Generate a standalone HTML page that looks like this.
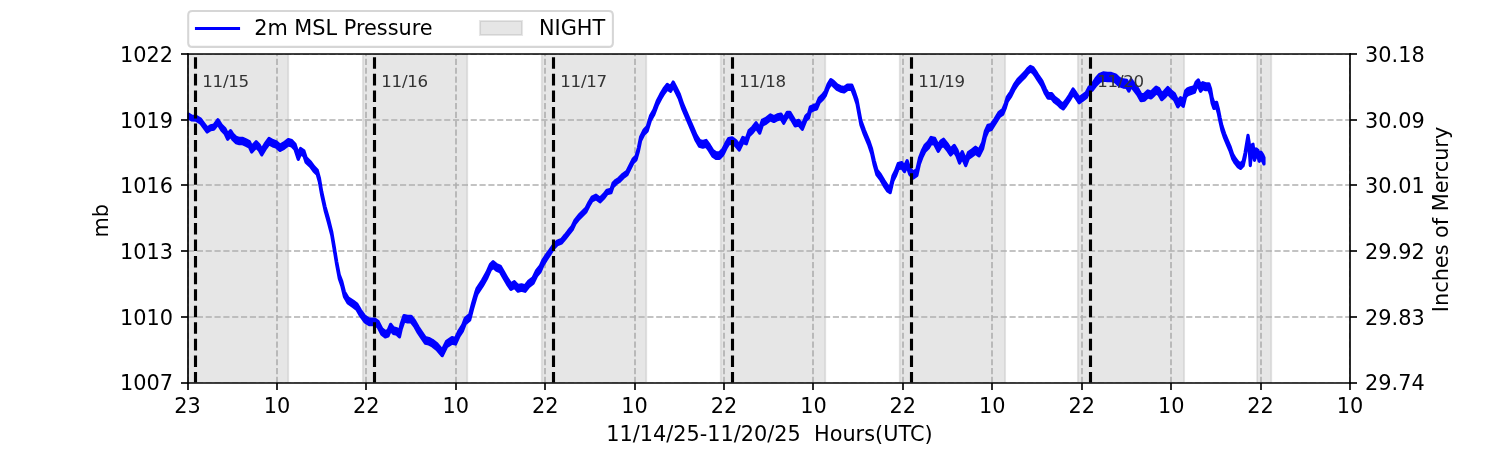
<!DOCTYPE html>
<html><head><meta charset="utf-8"><title>2m MSL Pressure</title>
<style>html,body{margin:0;padding:0;background:#fff;overflow:hidden;}svg{display:block;will-change:transform;}text{white-space:pre;}</style>
</head><body>
<svg width="1500" height="450" viewBox="0 0 1500 450">
<defs><clipPath id="ax"><rect x="187.5" y="54" width="1162.5" height="328.5"/></clipPath></defs>
<rect x="0" y="0" width="1500" height="450" fill="#fff"/>
<g clip-path="url(#ax)" fill="#808080" fill-opacity="0.2" stroke="#808080" stroke-opacity="0.2" stroke-width="1.7000" stroke-linejoin="miter">
<path d="M187.5 383H288.3V54H187.5Z"/>
<path d="M362.8 383H467.3V54H362.8Z"/>
<path d="M541.7 383H646.3V54H541.7Z"/>
<path d="M720.7 383H825.3V54H720.7Z"/>
<path d="M899.7 383H1005.2V54H899.7Z"/>
<path d="M1077.8 383H1184.2V54H1077.8Z"/>
<path d="M1257 383H1271.3V54H1257Z"/>
</g>
<g clip-path="url(#ax)" stroke="#b0b0b0" stroke-width="1.6667" stroke-dasharray="6.1667 2.6667" fill="none">
<path d="M188 383V54"/>
<path d="M277 383V54"/>
<path d="M366 383V54"/>
<path d="M456 383V54"/>
<path d="M545 383V54"/>
<path d="M635 383V54"/>
<path d="M724 383V54"/>
<path d="M813 383V54"/>
<path d="M903 383V54"/>
<path d="M992 383V54"/>
<path d="M1082 383V54"/>
<path d="M1171 383V54"/>
<path d="M1261 383V54"/>
<path d="M1350 383V54"/>
<path d="M188 383H1350"/>
<path d="M188 317H1350"/>
<path d="M188 251H1350"/>
<path d="M188 185H1350"/>
<path d="M188 120H1350"/>
<path d="M188 54H1350"/>
</g>
<path clip-path="url(#ax)" d="M188.50 114.00 L191.70 116.00 L196.10 116.20 L200.60 119.10 L203.90 123.60 L207.20 128.00 L210.60 125.80 L213.90 125.10 L217.90 119.66 L221.70 125.49 L225.00 128.63 L227.70 134.11 L230.60 130.60 L232.80 134.00 L236.10 137.30 L239.40 138.40 L242.80 138.40 L246.10 140.00 L249.40 141.70 L251.70 146.60 L256.10 141.70 L259.40 145.10 L261.70 149.50 L265.00 144.00 L269.00 138.40 L272.80 140.60 L276.10 141.70 L280.10 145.10 L283.90 142.90 L288.30 139.50 L291.70 140.60 L295.00 144.00 L298.30 154.00 L300.60 148.43 L303.90 150.80 L306.10 157.60 L310.60 162.20 L313.90 166.70 L317.20 170.00 L319.40 177.80 L321.70 191.40 L325.00 206.34 L328.30 217.94 L331.70 231.59 L334.00 244.99 L336.70 261.53 L339.30 274.77 L341.80 281.30 L344.40 291.74 L348.00 297.72 L353.30 301.20 L356.90 303.90 L360.40 310.10 L364.90 316.30 L369.30 319.00 L374.70 319.00 L378.20 321.60 L381.80 328.70 L385.30 331.40 L388.00 330.50 L390.60 324.30 L393.30 327.80 L396.90 328.70 L399.50 331.40 L401.30 323.40 L404.00 315.50 L407.50 316.30 L411.10 316.30 L414.60 320.70 L418.20 327.00 L421.70 332.30 L425.30 337.60 L428.90 338.50 L432.40 340.30 L436.90 343.80 L442.20 350.10 L446.60 341.20 L452.00 337.60 L455.50 338.50 L459.10 330.50 L462.60 325.20 L465.30 318.10 L469.70 314.50 L472.40 303.90 L476.00 291.40 L477.10 288.30 L482.40 280.30 L486.90 272.30 L490.40 264.30 L493.10 261.70 L496.70 264.70 L500.20 266.10 L503.80 272.30 L507.30 278.50 L510.90 283.80 L514.40 281.70 L518.00 285.60 L521.50 284.70 L525.10 285.70 L528.60 281.20 L533.10 277.60 L536.60 270.50 L540.20 266.11 L542.90 260.09 L546.40 254.93 L550.00 249.87 L553.50 244.80 L557.10 241.30 L561.50 239.50 L565.10 235.10 L568.60 230.60 L572.20 226.20 L575.00 220.20 L579.00 215.20 L582.00 212.20 L586.00 208.20 L589.00 202.20 L592.00 197.20 L596.00 195.20 L600.00 198.20 L604.00 194.20 L607.00 190.20 L611.00 189.20 L613.00 183.20 L616.00 180.20 L619.00 178.20 L623.00 174.20 L627.00 171.20 L630.00 165.20 L633.00 159.20 L636.00 156.17 L638.30 148.09 L640.60 136.91 L643.90 130.10 L647.20 126.69 L650.60 115.50 L653.90 109.88 L657.20 100.96 L660.60 94.35 L663.90 88.73 L667.20 84.31 L670.60 86.50 L673.20 81.98 L676.10 87.57 L679.40 94.25 L682.80 104.24 L686.10 111.92 L689.40 119.70 L692.80 127.39 L696.10 135.06 L699.40 140.42 L702.80 141.52 L706.10 140.44 L709.40 144.96 L712.80 150.49 L716.10 152.81 L719.40 152.83 L722.80 149.45 L725.90 143.07 L728.60 138.59 L732.10 137.81 L735.70 140.44 L739.20 144.86 L742.80 137.39 L746.30 138.71 L749.00 130.73 L752.60 127.25 L756.10 122.77 L759.70 128.20 L762.30 120.21 L765.90 118.43 L770.30 114.85 L773.90 116.67 L777.40 114.89 L781.00 114.01 L783.70 118.52 L787.20 112.34 L789.90 112.35 L792.60 116.76 L795.20 121.28 L798.80 120.39 L802.30 124.80 L805.90 115.91 L808.60 113.32 L810.30 107.02 L813.90 105.33 L816.60 104.43 L819.20 98.14 L822.80 94.65 L825.40 91.05 L828.10 83.96 L830.80 79.56 L833.40 81.37 L837.00 84.87 L840.60 86.68 L844.10 87.59 L847.50 85.09 L851.80 85.09 L854.10 90.87 L857.00 99.54 L860.90 120.49 L864.40 130.08 L868.90 140.75 L871.60 148.73 L874.20 160.31 L876.90 169.98 L880.40 174.46 L884.00 180.63 L887.50 185.90 L890.20 187.68 L892.90 176.06 L895.50 170.74 L898.20 163.61 L901.80 162.63 L904.40 166.12 L907.10 160.62 L909.80 168.51 L913.30 172.10 L916.90 169.40 L919.50 157.90 L922.20 150.80 L924.90 145.40 L928.40 141.90 L931.10 137.40 L934.60 138.30 L938.20 145.40 L940.90 141.00 L943.50 139.20 L947.10 143.70 L950.60 149.00 L954.20 145.40 L956.90 149.90 L959.50 157.00 L962.20 151.70 L965.70 159.70 L968.40 152.50 L972.00 149.90 L975.50 147.20 L979.10 149.90 L982.60 142.80 L985.30 131.22 L988.00 125.21 L991.20 124.43 L994.80 119.29 L999.20 112.19 L1002.80 109.58 L1005.40 103.28 L1007.20 97.07 L1010.80 91.77 L1014.30 84.66 L1017.90 79.35 L1021.40 75.74 L1025.00 72.14 L1027.70 68.63 L1030.30 66.43 L1033.00 67.72 L1035.60 71.31 L1038.30 75.71 L1041.90 81.00 L1045.40 88.99 L1048.10 93.49 L1051.60 93.48 L1054.30 96.98 L1057.90 99.67 L1060.50 102.36 L1063.20 104.06 L1065.90 100.55 L1069.40 95.24 L1073.00 88.94 L1075.60 92.53 L1079.20 97.82 L1082.70 95.22 L1086.30 92.51 L1089.00 87.20 L1092.50 84.16 L1096.10 78.36 L1099.60 74.40 L1103.20 72.90 L1107.60 73.40 L1111.20 73.40 L1115.60 74.90 L1119.20 78.40 L1123.30 79.90 L1126.70 80.40 L1128.90 84.43 L1131.10 79.57 L1134.40 84.16 L1137.80 88.70 L1141.10 94.80 L1144.40 94.20 L1147.80 90.90 L1151.10 92.00 L1153.30 89.80 L1156.10 87.00 L1158.90 88.70 L1161.70 93.70 L1164.40 91.40 L1167.80 87.50 L1171.10 90.90 L1174.40 93.70 L1177.80 100.90 L1180.60 97.60 L1183.30 100.30 L1185.60 90.90 L1187.80 88.70 L1191.10 87.60 L1194.40 86.40 L1196.10 82.00 L1198.30 79.80 L1200.60 85.30 L1202.80 82.60 L1205.60 83.70 L1208.90 83.70 L1210.60 88.74 L1212.10 97.45 L1213.90 102.97 L1216.60 102.26 L1218.30 108.58 L1220.10 117.60 L1221.90 125.60 L1224.60 133.60 L1227.20 139.80 L1229.90 146.00 L1232.60 154.00 L1235.20 158.50 L1237.90 162.00 L1240.60 163.80 L1243.20 161.10 L1245.00 153.10 L1246.80 142.23 L1248.00 135.25 L1249.10 141.89 L1250.30 159.50 L1251.60 145.10 L1253.00 144.20 L1254.40 154.00 L1256.20 148.90 L1258.00 150.50 L1259.20 154.90 L1261.00 152.20 L1262.80 154.90 L1264.00 157.60 L1264.00 164.00 L1262.80 161.30 L1261.00 158.60 L1259.20 161.30 L1258.00 156.90 L1256.20 155.30 L1254.40 160.40 L1253.00 150.60 L1251.60 151.50 L1250.30 165.69 L1249.10 147.72 L1248.00 140.75 L1246.80 147.37 L1245.00 157.70 L1243.20 165.70 L1240.60 168.40 L1237.90 166.60 L1235.20 163.10 L1232.60 158.60 L1229.90 150.60 L1227.20 144.40 L1224.60 138.20 L1221.90 130.20 L1220.10 122.20 L1218.30 113.42 L1216.60 107.34 L1213.90 108.43 L1212.10 103.15 L1210.60 94.66 L1208.90 89.70 L1205.60 89.70 L1202.80 88.60 L1200.60 91.30 L1198.30 85.80 L1196.10 88.00 L1194.40 92.40 L1191.10 93.60 L1187.80 94.70 L1185.60 96.90 L1183.30 106.30 L1180.60 103.60 L1177.80 106.90 L1174.40 99.70 L1171.10 96.90 L1167.80 93.50 L1164.40 97.40 L1161.70 99.70 L1158.90 94.70 L1156.10 93.00 L1153.30 95.80 L1151.10 98.00 L1147.80 96.90 L1144.40 100.20 L1141.10 100.80 L1137.80 94.70 L1134.40 90.24 L1131.10 86.03 L1128.90 91.17 L1126.70 87.40 L1123.30 87.10 L1119.20 85.60 L1115.60 82.10 L1111.20 80.60 L1107.60 80.60 L1103.20 80.10 L1099.60 81.60 L1096.10 85.04 L1092.50 89.84 L1089.00 92.20 L1086.30 97.49 L1082.70 100.18 L1079.20 102.78 L1075.60 97.47 L1073.00 93.86 L1069.40 100.16 L1065.90 105.45 L1063.20 108.94 L1060.50 107.24 L1057.90 104.53 L1054.30 101.82 L1051.60 98.32 L1048.10 98.31 L1045.40 93.81 L1041.90 85.80 L1038.30 80.49 L1035.60 76.09 L1033.00 72.48 L1030.30 71.17 L1027.70 73.37 L1025.00 76.86 L1021.40 80.46 L1017.90 84.05 L1014.30 89.34 L1010.80 96.43 L1007.20 101.73 L1005.40 107.92 L1002.80 114.22 L999.20 116.81 L994.80 123.91 L991.20 129.57 L988.00 130.79 L985.30 137.18 L982.60 148.80 L979.10 155.90 L975.50 153.20 L972.00 155.90 L968.40 158.50 L965.70 165.70 L962.20 157.70 L959.50 163.00 L956.90 155.90 L954.20 151.40 L950.60 155.00 L947.10 149.70 L943.50 145.20 L940.90 147.00 L938.20 151.40 L934.60 144.30 L931.10 143.40 L928.40 147.90 L924.90 151.40 L922.20 156.80 L919.50 163.90 L916.90 175.40 L913.30 178.10 L909.80 174.49 L907.10 166.38 L904.40 171.68 L901.80 167.97 L898.20 168.79 L895.50 175.86 L892.90 181.14 L890.20 192.72 L887.50 190.90 L884.00 185.57 L880.40 179.34 L876.90 174.82 L874.20 165.09 L871.60 153.47 L868.90 145.45 L864.40 134.72 L860.90 124.91 L857.00 104.06 L854.10 95.33 L851.80 89.51 L847.50 89.50 L844.10 92.01 L840.60 91.12 L837.00 89.33 L833.40 85.83 L830.80 84.04 L828.10 88.44 L825.40 95.55 L822.80 99.15 L819.20 102.66 L816.60 108.97 L813.90 109.87 L810.30 111.58 L808.60 117.88 L805.90 120.49 L802.30 129.40 L798.80 125.01 L795.20 125.92 L792.60 121.44 L789.90 117.05 L787.20 117.06 L783.70 123.28 L781.00 118.80 L777.40 119.71 L773.90 121.53 L770.30 119.75 L765.90 123.37 L762.30 125.19 L759.70 133.20 L756.10 127.83 L752.60 132.35 L749.00 135.87 L746.30 143.89 L742.80 142.61 L739.20 150.14 L735.70 145.76 L732.10 143.19 L728.60 144.01 L725.90 148.53 L722.80 154.95 L719.40 158.37 L716.10 158.39 L712.80 156.11 L709.40 150.64 L706.10 146.16 L702.80 147.28 L699.40 146.18 L696.10 140.54 L692.80 132.61 L689.40 124.70 L686.10 116.88 L682.80 109.16 L679.40 99.15 L676.10 92.43 L673.20 86.82 L670.60 91.30 L667.20 89.09 L663.90 93.47 L660.60 99.05 L657.20 105.64 L653.90 114.52 L650.60 120.10 L647.20 131.11 L643.90 134.30 L640.60 140.89 L638.30 151.91 L636.00 159.83 L633.00 162.80 L630.00 168.80 L627.00 174.80 L623.00 177.80 L619.00 181.80 L616.00 183.80 L613.00 186.80 L611.00 192.80 L607.00 193.80 L604.00 197.80 L600.00 201.80 L596.00 198.80 L592.00 200.80 L589.00 205.80 L586.00 211.80 L582.00 215.80 L579.00 218.80 L575.00 223.80 L572.20 229.80 L568.60 234.20 L565.10 238.70 L561.50 243.10 L557.10 244.90 L553.50 248.60 L550.00 254.13 L546.40 259.67 L542.90 265.31 L540.20 271.69 L536.60 276.10 L533.10 283.20 L528.60 286.80 L525.10 291.30 L521.50 290.30 L518.00 291.20 L514.40 287.30 L510.90 289.40 L507.30 284.10 L503.80 277.90 L500.20 271.70 L496.70 270.30 L493.10 267.30 L490.40 269.90 L486.90 277.90 L482.40 285.90 L477.10 293.90 L476.00 297.00 L472.40 309.50 L469.70 320.10 L465.30 323.70 L462.60 330.80 L459.10 336.10 L455.50 344.10 L452.00 343.20 L446.60 346.80 L442.20 355.70 L436.90 349.40 L432.40 345.90 L428.90 344.10 L425.30 343.20 L421.70 337.90 L418.20 332.60 L414.60 326.30 L411.10 321.90 L407.50 321.90 L404.00 321.10 L401.30 329.00 L399.50 337.00 L396.90 334.30 L393.30 333.40 L390.60 329.90 L388.00 336.10 L385.30 337.00 L381.80 334.30 L378.20 327.20 L374.70 324.60 L369.30 324.60 L364.90 321.90 L360.40 315.70 L356.90 309.50 L353.30 306.80 L348.00 303.08 L344.40 296.66 L341.80 285.90 L339.30 278.63 L336.70 265.07 L334.00 248.41 L331.70 235.01 L328.30 222.06 L325.00 210.26 L321.70 195.20 L319.40 182.20 L317.20 174.40 L313.90 171.10 L310.60 166.60 L306.10 162.40 L303.90 155.81 L300.60 153.77 L298.30 159.40 L295.00 149.40 L291.70 146.00 L288.30 144.90 L283.90 148.30 L280.10 150.50 L276.10 147.10 L272.80 146.00 L269.00 143.80 L265.00 149.40 L261.70 154.90 L259.40 150.50 L256.10 147.10 L251.70 152.00 L249.40 147.10 L246.10 145.40 L242.80 143.80 L239.40 143.80 L236.10 142.70 L232.80 139.40 L230.60 136.00 L227.70 139.29 L225.00 133.57 L221.70 130.11 L217.90 123.94 L213.90 129.10 L210.60 129.80 L207.20 132.00 L203.90 127.60 L200.60 123.10 L196.10 120.20 L191.70 120.00 L188.50 118.00Z" fill="#0000ff" stroke="#0000ff" stroke-width="3.1250" stroke-linejoin="round"/>
<g stroke="#000" stroke-width="1.6667" stroke-linecap="square" fill="none">
<path d="M188 383V54"/>
<path d="M1350 383V54"/>
<path d="M188 383H1350"/>
<path d="M188 54H1350"/>
</g>
<g clip-path="url(#ax)" stroke="#000" stroke-width="3.1250" stroke-dasharray="11.5625 5.0000" fill="none">
<path d="M195.5 383.5V54.5"/>
<path d="M374.5 383.5V54.5"/>
<path d="M553.5 383.5V54.5"/>
<path d="M732.5 383.5V54.5"/>
<path d="M911.5 383.5V54.5"/>
<path d="M1090.5 383.5V54.5"/>
</g>
<text x="202.20" y="87.20" style="font-size:16.667px;font-family:'DejaVu Sans','Liberation Sans',sans-serif;fill:#333;letter-spacing:-0.25px">11/15</text>
<text x="381.20" y="87.20" style="font-size:16.667px;font-family:'DejaVu Sans','Liberation Sans',sans-serif;fill:#333;letter-spacing:-0.25px">11/16</text>
<text x="560.20" y="87.20" style="font-size:16.667px;font-family:'DejaVu Sans','Liberation Sans',sans-serif;fill:#333;letter-spacing:-0.25px">11/17</text>
<text x="739.20" y="87.20" style="font-size:16.667px;font-family:'DejaVu Sans','Liberation Sans',sans-serif;fill:#333;letter-spacing:-0.25px">11/18</text>
<text x="918.20" y="87.20" style="font-size:16.667px;font-family:'DejaVu Sans','Liberation Sans',sans-serif;fill:#333;letter-spacing:-0.25px">11/19</text>
<text x="1097.20" y="87.20" style="font-size:16.667px;font-family:'DejaVu Sans','Liberation Sans',sans-serif;fill:#333;letter-spacing:-0.25px">11/20</text>
<g stroke="#000" stroke-width="1.6667" fill="none">
<path d="M188 383V390"/>
<path d="M277 383V390"/>
<path d="M366 383V390"/>
<path d="M456 383V390"/>
<path d="M545 383V390"/>
<path d="M635 383V390"/>
<path d="M724 383V390"/>
<path d="M813 383V390"/>
<path d="M903 383V390"/>
<path d="M992 383V390"/>
<path d="M1082 383V390"/>
<path d="M1171 383V390"/>
<path d="M1261 383V390"/>
<path d="M1350 383V390"/>
<path d="M188 383H181"/>
<path d="M1350 383H1357"/>
<path d="M188 317H181"/>
<path d="M1350 317H1357"/>
<path d="M188 251H181"/>
<path d="M1350 251H1357"/>
<path d="M188 185H181"/>
<path d="M1350 185H1357"/>
<path d="M188 120H181"/>
<path d="M1350 120H1357"/>
<path d="M188 54H181"/>
<path d="M1350 54H1357"/>
</g>
<text x="187.50" y="412.91" text-anchor="middle" style="font-size:20.833px;font-family:'DejaVu Sans','Liberation Sans',sans-serif">23</text>
<text x="276.92" y="412.91" text-anchor="middle" style="font-size:20.833px;font-family:'DejaVu Sans','Liberation Sans',sans-serif">10</text>
<text x="366.35" y="412.91" text-anchor="middle" style="font-size:20.833px;font-family:'DejaVu Sans','Liberation Sans',sans-serif">22</text>
<text x="455.77" y="412.91" text-anchor="middle" style="font-size:20.833px;font-family:'DejaVu Sans','Liberation Sans',sans-serif">10</text>
<text x="545.19" y="412.91" text-anchor="middle" style="font-size:20.833px;font-family:'DejaVu Sans','Liberation Sans',sans-serif">22</text>
<text x="634.62" y="412.91" text-anchor="middle" style="font-size:20.833px;font-family:'DejaVu Sans','Liberation Sans',sans-serif">10</text>
<text x="724.04" y="412.91" text-anchor="middle" style="font-size:20.833px;font-family:'DejaVu Sans','Liberation Sans',sans-serif">22</text>
<text x="813.46" y="412.91" text-anchor="middle" style="font-size:20.833px;font-family:'DejaVu Sans','Liberation Sans',sans-serif">10</text>
<text x="902.88" y="412.91" text-anchor="middle" style="font-size:20.833px;font-family:'DejaVu Sans','Liberation Sans',sans-serif">22</text>
<text x="992.31" y="412.91" text-anchor="middle" style="font-size:20.833px;font-family:'DejaVu Sans','Liberation Sans',sans-serif">10</text>
<text x="1081.73" y="412.91" text-anchor="middle" style="font-size:20.833px;font-family:'DejaVu Sans','Liberation Sans',sans-serif">22</text>
<text x="1171.15" y="412.91" text-anchor="middle" style="font-size:20.833px;font-family:'DejaVu Sans','Liberation Sans',sans-serif">10</text>
<text x="1260.58" y="412.91" text-anchor="middle" style="font-size:20.833px;font-family:'DejaVu Sans','Liberation Sans',sans-serif">22</text>
<text x="1350.00" y="412.91" text-anchor="middle" style="font-size:20.833px;font-family:'DejaVu Sans','Liberation Sans',sans-serif">10</text>
<text x="769.35" y="441.41" text-anchor="middle" style="font-size:20.833px;font-family:'DejaVu Sans','Liberation Sans',sans-serif">11/14/25-11/20/25  Hours(UTC)</text>
<text x="172.92" y="390.41" text-anchor="end" style="font-size:20.833px;font-family:'DejaVu Sans','Liberation Sans',sans-serif">1007</text>
<text x="1365.08" y="390.41" text-anchor="start" style="font-size:20.833px;font-family:'DejaVu Sans','Liberation Sans',sans-serif">29.74</text>
<text x="172.92" y="324.71" text-anchor="end" style="font-size:20.833px;font-family:'DejaVu Sans','Liberation Sans',sans-serif">1010</text>
<text x="1365.08" y="324.71" text-anchor="start" style="font-size:20.833px;font-family:'DejaVu Sans','Liberation Sans',sans-serif">29.83</text>
<text x="172.92" y="259.01" text-anchor="end" style="font-size:20.833px;font-family:'DejaVu Sans','Liberation Sans',sans-serif">1013</text>
<text x="1365.08" y="259.01" text-anchor="start" style="font-size:20.833px;font-family:'DejaVu Sans','Liberation Sans',sans-serif">29.92</text>
<text x="172.92" y="193.31" text-anchor="end" style="font-size:20.833px;font-family:'DejaVu Sans','Liberation Sans',sans-serif">1016</text>
<text x="1365.08" y="193.31" text-anchor="start" style="font-size:20.833px;font-family:'DejaVu Sans','Liberation Sans',sans-serif">30.01</text>
<text x="172.92" y="127.61" text-anchor="end" style="font-size:20.833px;font-family:'DejaVu Sans','Liberation Sans',sans-serif">1019</text>
<text x="1365.08" y="127.61" text-anchor="start" style="font-size:20.833px;font-family:'DejaVu Sans','Liberation Sans',sans-serif">30.09</text>
<text x="172.92" y="61.91" text-anchor="end" style="font-size:20.833px;font-family:'DejaVu Sans','Liberation Sans',sans-serif">1022</text>
<text x="1365.08" y="61.91" text-anchor="start" style="font-size:20.833px;font-family:'DejaVu Sans','Liberation Sans',sans-serif">30.18</text>
<text x="108.03" y="220.75" text-anchor="middle" transform="rotate(-90 108.03 220.75)" style="font-size:20.833px;font-family:'DejaVu Sans','Liberation Sans',sans-serif">mb</text>
<text x="1448.39" y="219.45" text-anchor="middle" transform="rotate(-90 1448.39 219.45)" style="font-size:20.833px;font-family:'DejaVu Sans','Liberation Sans',sans-serif">Inches of Mercury</text>
<path d="M192.367 46.9H608.733Q612.9 46.9 612.9 42.7333V15.1667Q612.9 11 608.733 11H192.367Q188.2 11 188.2 15.1667V42.7333Q188.2 46.9 192.367 46.9Z" fill="#fff" fill-opacity="0.8" stroke="#ccc" stroke-opacity="0.8" stroke-width="2.0833"/>
<path d="M196.5 28.5H238.5" stroke="#0000ff" stroke-width="3.1250" stroke-linecap="square"/>
<text x="254.17" y="34.56" text-anchor="start" style="font-size:20.833px;font-family:'DejaVu Sans','Liberation Sans',sans-serif">2m MSL Pressure</text>
<path d="M480 35H522V21H480Z" fill="#808080" fill-opacity="0.2" stroke="#808080" stroke-opacity="0.2" stroke-width="2.0833"/>
<text x="539.00" y="34.56" text-anchor="start" style="font-size:20.833px;font-family:'DejaVu Sans','Liberation Sans',sans-serif">NIGHT</text>
</svg>
</body></html>
